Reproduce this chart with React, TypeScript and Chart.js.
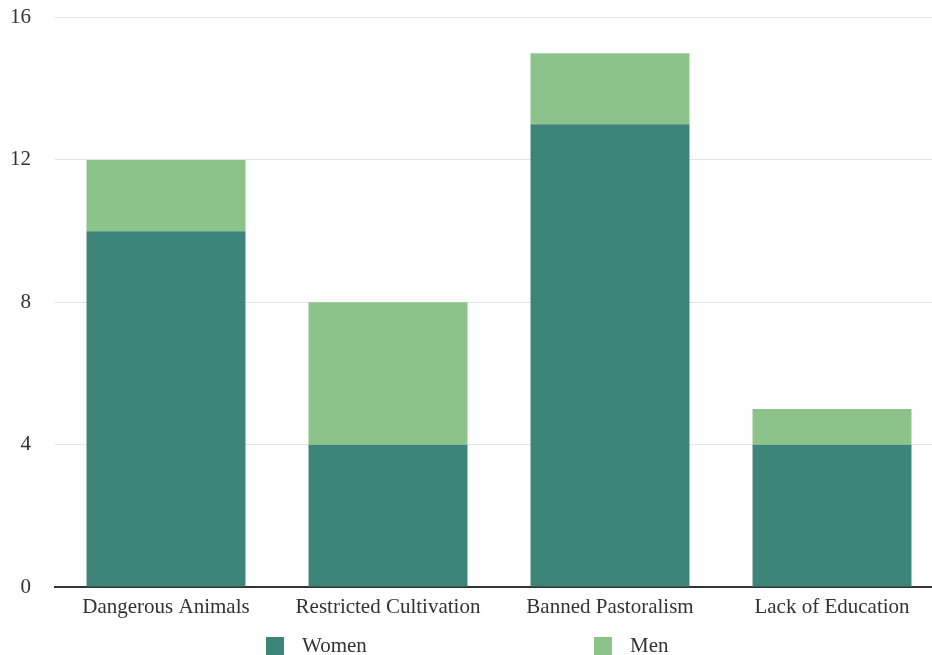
import React, { useEffect, useRef } from "react";
import { Chart, registerables } from "chart.js";

Chart.register(...registerables);

const categories = ["Dangerous Animals", "Restricted Cultivation", "Banned Pastoralism", "Lack of Education"];
const women = [10, 4, 13, 4];
const men = [2, 4, 2, 1];
const yTicks = [0, 4, 8, 12, 16];

const FONT = "'Liberation Serif', 'Times New Roman', serif";
const SHIFT = 19;

const legendPlugin = {
  id: "customLegend",
  afterDraw(chart: any) {
    const ctx = chart.ctx;
    const pos = [
      { box: 266, text: 302 },
      { box: 594, text: 630 },
    ];
    ctx.save();
    chart.data.datasets.forEach((ds: any, i: number) => {
      const p = pos[i];
      ctx.fillStyle = ds.backgroundColor;
      ctx.fillRect(p.box, 637 + SHIFT, 18, 18);
      ctx.fillStyle = "#333";
      ctx.font = `21px ${FONT}`;
      ctx.textBaseline = "middle";
      ctx.textAlign = "left";
      ctx.fillText(ds.label, p.text, 646 + SHIFT);
    });
    ctx.restore();
  },
};

export default function App() {
  const ref = useRef<HTMLCanvasElement>(null);
  useEffect(() => {
    document.body.style.margin = "0";
    document.body.style.overflow = "hidden";
    const chart = new Chart(ref.current!, {
      type: "bar",
      data: {
        labels: categories,
        datasets: [
          { label: "Women", data: women, backgroundColor: "#3d8579", barPercentage: 0.716, categoryPercentage: 1 },
          { label: "Men", data: men, backgroundColor: "#8bc38a", barPercentage: 0.716, categoryPercentage: 1 },
        ],
      },
      options: {
        responsive: false,
        animation: false,
        layout: { padding: { top: 0, right: 7, bottom: 0, left: 0 } },
        plugins: { legend: { display: false }, tooltip: { enabled: false } },
        scales: {
          x: {
            stacked: true,
            grid: { display: false, drawTicks: false },
            border: { display: true, color: "#333", width: 2 },
            ticks: { color: "#333", font: { family: FONT, size: 21 }, padding: 8, maxRotation: 0, autoSkip: false },
            afterFit: (s: any) => { s.height = 68; },
          },
          y: {
            stacked: true,
            min: 0,
            max: 16,
            afterBuildTicks: (s: any) => { s.ticks = yTicks.map((v) => ({ value: v })); },
            grid: { color: "#e3e3e3", drawTicks: false, lineWidth: 1 },
            border: { display: false },
            ticks: { color: "#333", font: { family: FONT, size: 21 }, padding: 24 },
            afterFit: (s: any) => { s.width = 55; },
          },
        },
      },
      plugins: [legendPlugin],
    });
    return () => chart.destroy();
  }, []);
  return (
    <div style={{ width: 932, height: 655, overflow: "hidden" }}>
      <canvas ref={ref} width={950} height={655 + SHIFT} style={{ display: "block", marginTop: -SHIFT }} />
    </div>
  );
}
